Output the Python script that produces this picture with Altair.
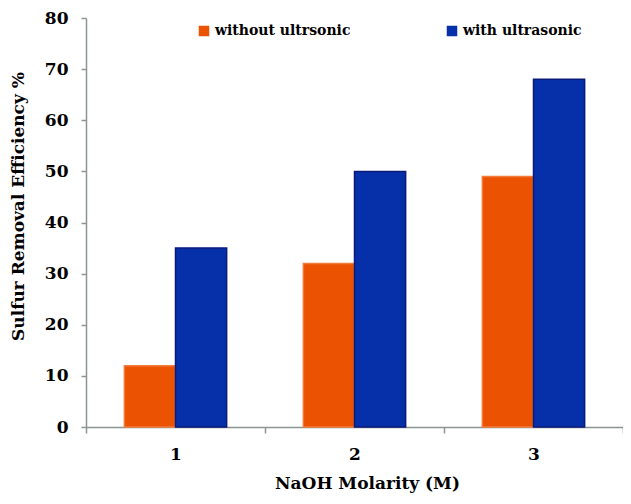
import altair as alt
import pandas as pd

molarity = ["1", "2", "3"]
series = ["without ultrsonic", "with ultrasonic"]
without_vals = [12, 32, 49]
with_vals = [35, 50, 68]
y_ticks = [0, 10, 20, 30, 40, 50, 60, 70, 80]

fill_colors = ["#EB5202", "#0630AA"]
stroke_colors = ["#F27C3A", "#0A1A78"]

rows = []
for m, a, b in zip(molarity, without_vals, with_vals):
    rows.append({"M": m, "S": series[0], "V": a})
    rows.append({"M": m, "S": series[1], "V": b})
df = pd.DataFrame(rows)

FONT = "DejaVu Serif"
AXIS_GRAY = "#8C9595"

chart = alt.Chart(df).mark_bar(strokeWidth=1.5).encode(
    x=alt.X(
        "M:N",
        sort=molarity,
        scale=alt.Scale(paddingInner=0, paddingOuter=0),
        axis=alt.Axis(
            title="NaOH Molarity (M)",
            labelAngle=0,
            tickBand="extent",
            tickSize=6,
            labelPadding=13,
            titlePadding=13,
            titleX=281,
            labelFontSize=17,
            titleFontSize=17,
        ),
    ),
    xOffset=alt.XOffset("S:N", sort=series, scale=alt.Scale(paddingInner=0, paddingOuter=0.75)),
    y=alt.Y(
        "V:Q",
        scale=alt.Scale(domain=[0, 80], nice=False),
        axis=alt.Axis(
            values=y_ticks,
            title="Sulfur Removal Efficiency %",
            grid=False,
            tickSize=5,
            labelPadding=13,
            titlePadding=17,
            titleY=188,
            labelFontSize=17,
            titleFontSize=17,
        ),
    ),
    color=alt.Color(
        "S:N",
        sort=series,
        scale=alt.Scale(domain=series, range=fill_colors),
        legend=alt.Legend(
            orient="none",
            legendX=111,
            legendY=6,
            direction="horizontal",
            title=None,
            symbolType="square",
            symbolSize=110,
            symbolStrokeWidth=0,
            labelFont=FONT,
            labelFontSize=14,
            labelFontWeight="bold",
            labelColor="#000000",
            columnPadding=94,
            labelOffset=4,
            padding=0,
        ),
    ),
    stroke=alt.Stroke(
        "S:N",
        sort=series,
        scale=alt.Scale(domain=series, range=stroke_colors),
        legend=None,
    ),
).properties(
    width=537,
    height=409,
    autosize=alt.AutoSizeParams(type="none"),
    padding={"left": 78, "top": 10, "right": 0, "bottom": 69},
    background="white",
).configure_view(
    stroke=None
).configure_axis(
    labelFont=FONT,
    titleFont=FONT,
    labelFontWeight="bold",
    titleFontWeight="bold",
    labelColor="#000000",
    titleColor="#000000",
    domainColor=AXIS_GRAY,
    tickColor=AXIS_GRAY,
    domainWidth=1.5,
    tickWidth=1.5,
)

chart.save("out.html", embed_options={"renderer": "svg", "actions": False})
